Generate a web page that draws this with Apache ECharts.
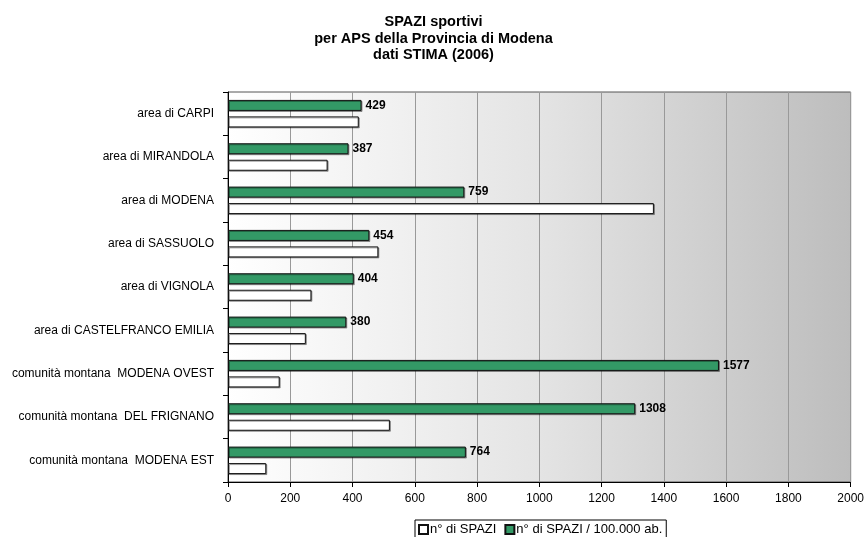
<!DOCTYPE html>
<html>
<head>
<meta charset="utf-8">
<script src="https://cdn.jsdelivr.net/npm/echarts@6/dist/echarts.min.js"></script>
<style>
    html, body {margin: 0; padding: 0; background: #fff;}
    #chart {width: 867px; height: 537px;}
</style>
</head>
<body>
<div id="chart"></div>
<script>
const categories = [
    'area di CARPI',
    'area di MIRANDOLA',
    'area di MODENA',
    'area di SASSUOLO',
    'area di VIGNOLA',
    'area di CASTELFRANCO EMILIA',
    'comunità montana  MODENA OVEST',
    'comunità montana  DEL FRIGNANO',
    'comunità montana  MODENA EST'
];
// n° di SPAZI (valori stimati dal grafico)
const spazi = [420, 320, 1368, 483, 268, 250, 166, 520, 123];
// n° di SPAZI / 100.000 ab.
const spaziPer100k = [429, 387, 759, 454, 404, 380, 1577, 1308, 764];
const xTicks = {min: 0, max: 2000, interval: 200};

const font = 'Liberation Sans, Arial, sans-serif';
const chart = echarts.init(document.getElementById('chart'));

const option = {
    animation: false,
    textStyle: {fontFamily: font},
    title: {
        text: 'SPAZI sportivi\nper APS della Provincia di Modena\ndati STIMA (2006)',
        left: 'center',
        top: 9,
        textStyle: {fontSize: 14.5, fontWeight: 'bold', color: '#000', lineHeight: 16.5, fontFamily: font}
    },
    legend: {
        data: ['n° di SPAZI', 'n° di SPAZI / 100.000 ab.'],
        left: 415,
        top: 520,
        icon: 'rect',
        itemWidth: 9,
        itemHeight: 9,
        itemGap: 8,
        padding: [3, 4, 3, 3],
        borderColor: '#000',
        borderWidth: 1,
        textStyle: {fontSize: 13, color: '#000', fontFamily: font, padding: [0, 0, 0, -3]}
    },
    grid: {
        left: 228,
        right: 15,
        top: 92,
        bottom: 55,
        show: true,
        borderColor: '#555',
        borderWidth: 1,
        backgroundColor: {
            type: 'linear', x: 0, y: 0, x2: 1, y2: 0,
            colorStops: [
                {offset: 0, color: '#ffffff'},
                {offset: 0.5, color: '#e4e4e4'},
                {offset: 1, color: '#bdbdbd'}
            ]
        }
    },
    xAxis: {
        type: 'value',
        min: xTicks.min,
        max: xTicks.max,
        interval: xTicks.interval,
        axisLine: {show: true, lineStyle: {color: '#000', width: 1}},
        axisTick: {show: true, length: 5, lineStyle: {color: '#000'}},
        axisLabel: {fontSize: 12, color: '#000', margin: 11, fontFamily: font, formatter: v => String(v)},
        splitLine: {show: true, lineStyle: {color: '#999', width: 1}}
    },
    yAxis: {
        type: 'category',
        inverse: true,
        data: categories,
        axisLine: {show: true, lineStyle: {color: '#000', width: 1}},
        axisTick: {show: true, length: 5, lineStyle: {color: '#000'}},
        axisLabel: {fontSize: 12, color: '#000', margin: 14, fontFamily: font},
        splitLine: {show: false}
    },
    series: [
        {
            name: 'n° di SPAZI / 100.000 ab.',
            type: 'bar',
            data: spaziPer100k,
            barWidth: 11,
            barGap: '50%',
            itemStyle: {
                color: '#339966', borderColor: '#111', borderWidth: 1,
                shadowColor: 'rgba(0,0,0,0.35)', shadowOffsetX: 1, shadowOffsetY: 1
            },
            label: {
                show: true, position: 'right', distance: 4,
                fontSize: 12, fontWeight: 'bold', color: '#000', fontFamily: font
            }
        },
        {
            name: 'n° di SPAZI',
            type: 'bar',
            data: spazi,
            barWidth: 11,
            barGap: '50%',
            itemStyle: {
                color: '#ffffff', borderColor: '#111', borderWidth: 1,
                shadowColor: 'rgba(0,0,0,0.35)', shadowOffsetX: 1, shadowOffsetY: 1
            }
        }
    ]
};

chart.setOption(option);
</script>
</body>
</html>
